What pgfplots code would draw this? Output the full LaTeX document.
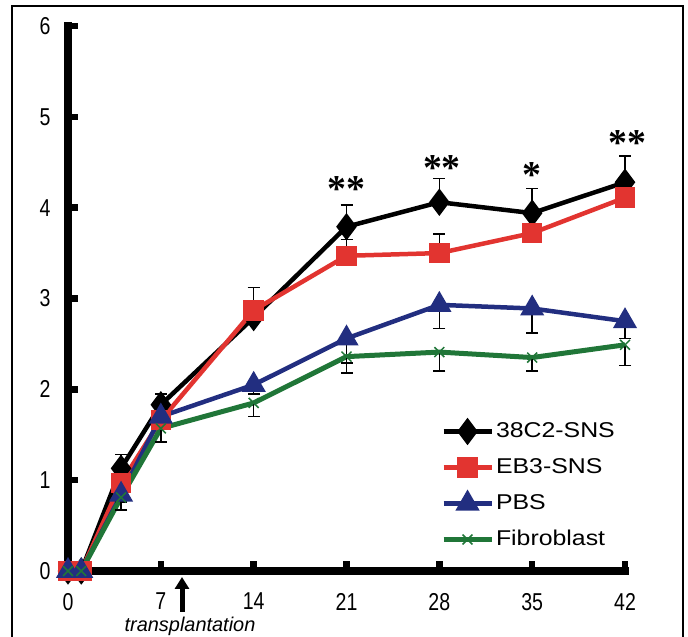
\documentclass[border=0pt]{standalone}
\usepackage{fontspec}
\setmainfont{Liberation Sans}
\newfontfamily\astfont{Liberation Serif}
\newfontfamily\legfont[FakeStretch=1.16]{Liberation Sans}
\newfontfamily\tickfont[FakeStretch=0.8]{Liberation Sans}
\usepackage{pgfplots}
\pgfplotsset{compat=1.18}
\usetikzlibrary{arrows.meta}
\definecolor{cRed}{RGB}{226,52,48}
\definecolor{cBlue}{RGB}{34,46,128}
\definecolor{cGreen}{RGB}{32,118,56}

\begin{document}
\begin{tikzpicture}[x=1bp,y=1bp]
\useasboundingbox (0,0) rectangle (688,637);
\draw[line width=1.5bp] (12,-5) -- (12,631) -- (683,631) -- (683,-5);
\begin{axis}[
  at={(68bp,66bp)}, anchor=south west,
  scale only axis, width=557bp, height=545bp,
  xmin=0, xmax=42, ymin=0, ymax=6,
  axis lines*=left,
  axis line style={-, line width=7.5bp, line cap=rect},
  xtick={0,7,14,21,28,35,42},
  ytick={0,1,2,3,4,5,6},
  tick align=inside,
  major tick length=10bp,
  tick style={line width=6.5bp, black},
  /pgf/number format/assume math mode=true,
  ticklabel style={font=\tickfont\fontsize{24.5}{25}\selectfont},
  yticklabel style={xshift=-14bp},
  xticklabel style={inner sep=0pt, yshift=-22bp},
  clip=false,
  legend style={at={(rel axis cs:0.664,0.282)}, anchor=north west,
    draw=none, fill=none, font=\legfont\fontsize{21.5}{24}\selectfont,
    row sep=12bp, nodes={inner sep=2bp, text height=16bp, text depth=4bp}},
  legend cell align=left,
  legend image code/.code={\draw[mark repeat=2,mark phase=2,#1]
    plot coordinates {(0bp,0bp) (24bp,0bp) (48bp,0bp)};},
  error bars/error bar style={line width=1.5bp, black, solid},
  error bars/error mark options={rotate=90, mark size=6bp, line width=1.5bp, black},
]
% 38C2-SNS
\addplot[black, line width=4.5bp, mark=diamond*, mark size=10bp,
  mark options={solid, fill=black},
  error bars/.cd, y dir=plus, y explicit] coordinates {
  (0,0) +- (0,0)
  (1,0) +- (0,0)
  (4,1.13) +- (0,0.15)
  (7,1.83) +- (0,0.12)
  (14,2.79) +- (0,0.10)
  (21,3.79) +- (0,0.24)
  (28,4.06) +- (0,0.26)
  (35,3.94) +- (0,0.27)
  (42,4.28) +- (0,0.29)
};
\addlegendentry{38C2-SNS}
% EB3-SNS
\addplot[cRed, line width=4.5bp, mark=square*, mark size=8bp,
  mark options={solid, fill=cRed},
  error bars/.cd, y dir=plus, y explicit] coordinates {
  (0,0) +- (0,0)
  (1,0) +- (0,0)
  (4,0.97) +- (0,0.08)
  (7,1.66) +- (0,0.08)
  (14,2.87) +- (0,0.25)
  (21,3.47) +- (0,0.18)
  (28,3.50) +- (0,0.21)
  (35,3.72) +- (0,0.08)
  (42,4.11) +- (0,0.08)
};
\addlegendentry{EB3-SNS}
% PBS
\addplot[cBlue, line width=4.5bp, mark=triangle*, mark size=9.5bp,
  mark options={solid, fill=cBlue},
  error bars/.cd, y dir=minus, y explicit] coordinates {
  (0,0) +- (0,0)
  (1,0) +- (0,0)
  (4,0.84) +- (0,0.08)
  (7,1.70) +- (0,0.08)
  (14,2.05) +- (0,0.10)
  (21,2.56) +- (0,0.27)
  (28,2.93) +- (0,0.26)
  (35,2.89) +- (0,0.27)
  (42,2.75) +- (0,0.19)
};
\addlegendentry{PBS}
% Fibroblast
\addplot[cGreen, line width=5bp, mark=x, mark size=7bp,
  mark options={solid, line width=1.5bp},
  error bars/.cd, y dir=minus, y explicit] coordinates {
  (0,0) +- (0,0)
  (1,0) +- (0,0)
  (4,0.81) +- (0,0.14)
  (7,1.57) +- (0,0.15)
  (14,1.85) +- (0,0.15)
  (21,2.36) +- (0,0.18)
  (28,2.41) +- (0,0.21)
  (35,2.35) +- (0,0.15)
  (42,2.49) +- (0,0.23)
};
\addlegendentry{Fibroblast}
\node[font=\astfont\bfseries\fontsize{38}{38}\selectfont] at (axis cs:21,4.20) {**};
\node[font=\astfont\bfseries\fontsize{38}{38}\selectfont] at (axis cs:28.2,4.44) {**};
\node[font=\astfont\bfseries\fontsize{38}{38}\selectfont] at (axis cs:35,4.36) {*};
\node[font=\astfont\bfseries\fontsize{38}{38}\selectfont] at (axis cs:42.2,4.71) {**};
\end{axis}
\draw[line width=5bp, -{Triangle[width=14bp,length=12bp]}] (182,25) -- (182,60);
\node[anchor=base, inner sep=0pt, font=\itshape\fontsize{20}{22}\selectfont] at (190,5) {transplantation};
\end{tikzpicture}
\end{document}
